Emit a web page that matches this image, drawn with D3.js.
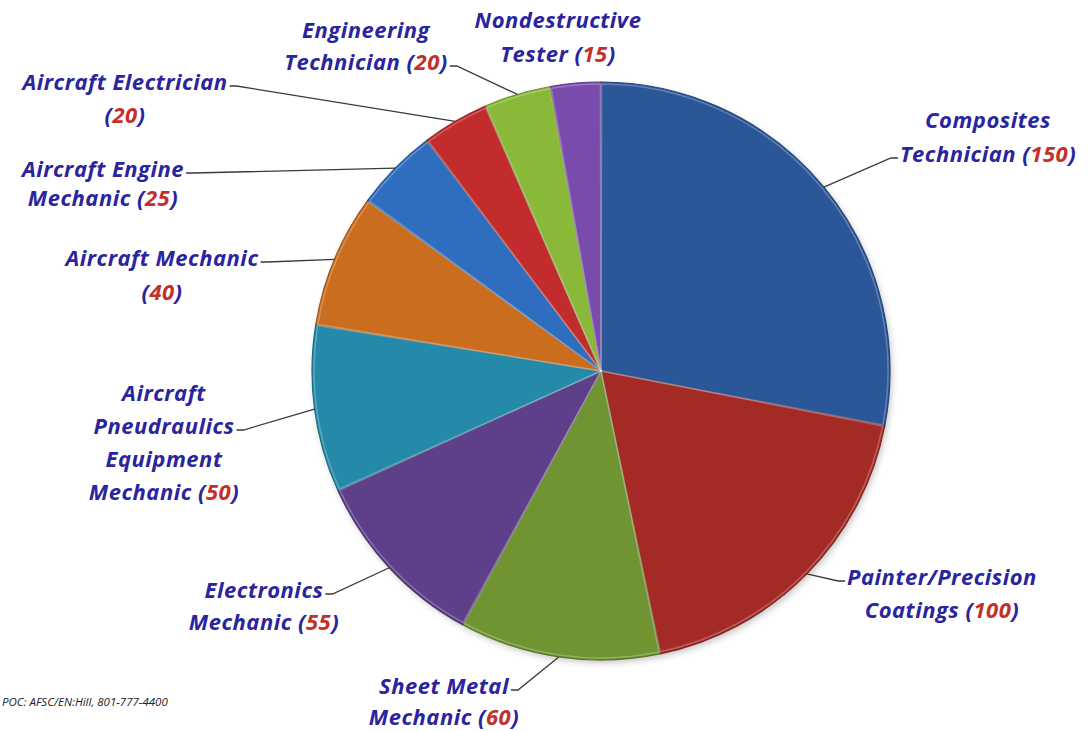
<!DOCTYPE html>
<html>
<head>
<meta charset="utf-8">
<script src="https://cdn.jsdelivr.net/npm/d3@7/dist/d3.min.js"></script>
<style>
    body { margin: 0; background: #fff; }
    svg { display: block; }
    .lbl { font-family: "Open Sans", Lato, sans-serif; font-weight: bold; font-style: italic; font-size: 22px; fill: #2a249e; letter-spacing: 0.5px; }
    .num { fill: #c3302a; }
    .leader { fill: none; stroke: #3a3a3a; stroke-width: 1.3; }
    .poc { font-family: "Open Sans", sans-serif; font-style: italic; font-size: 11.5px; fill: #222; }
</style>
</head>
<body>
<svg id="chart"></svg>
<script>
const width = 1088,
    height = 731;

// chart data (clockwise from 12 o'clock)
const categories = [
    ["Composites", "Technician"],
    ["Painter/Precision", "Coatings"],
    ["Sheet Metal", "Mechanic"],
    ["Electronics", "Mechanic"],
    ["Aircraft", "Pneudraulics", "Equipment", "Mechanic"],
    ["Aircraft Mechanic"],
    ["Aircraft Engine", "Mechanic"],
    ["Aircraft Electrician"],
    ["Engineering", "Technician"],
    ["Nondestructive", "Tester"]
];
const values = [150, 100, 60, 55, 50, 40, 25, 20, 20, 15];
const sliceColors = [
    "#3163ad", "#ba302b", "#7ea838", "#6a479c", "#2a9cc0",
    "#e67c22", "#357bd8", "#dc3232", "#9cd140", "#8855c4"
];
const pocText = "POC:  AFSC/EN:Hill, 801-777-4400";

// label layout: centre x, first baseline, line gap, value on own line,
// which line the leader leaves from (-1 = none)
const labelLayout = [
    { x: 988, y: 128, gap: 34, own: false, leadLine: 1 },
    { x: 942, y: 585, gap: 33, own: false, leadLine: 0 },
    { x: 444, y: 694, gap: 31, own: false, leadLine: 0 },
    { x: 264, y: 598, gap: 32, own: false, leadLine: 0 },
    { x: 164, y: 401, gap: 33, own: false, leadLine: 1 },
    { x: 162, y: 266, gap: 34, own: true, leadLine: 0 },
    { x: 103, y: 177, gap: 29, own: false, leadLine: 0 },
    { x: 125, y: 90, gap: 33, own: true, leadLine: 0 },
    { x: 366, y: 38, gap: 32, own: false, leadLine: 1 },
    { x: 558, y: 28, gap: 34, own: false, leadLine: -1 }
];

const cx = 601,
    cy = 371,
    radius = 289;

const svg = d3
    .select("#chart")
    .attr("width", width)
    .attr("height", height);

const defs = svg.append("defs");

// soft shading per slice: light rim near the edge
sliceColors.forEach((c, i) => {
    const g = defs
        .append("radialGradient")
        .attr("id", "grad" + i)
        .attr("gradientUnits", "userSpaceOnUse")
        .attr("cx", cx)
        .attr("cy", cy)
        .attr("r", radius);
    const base = d3.color(c);
    g.append("stop").attr("offset", "0%").attr("stop-color", base.darker(0.05));
    g.append("stop").attr("offset", "88%").attr("stop-color", base);
    g.append("stop").attr("offset", "96%").attr("stop-color", base.brighter(0.3));
    g.append("stop").attr("offset", "100%").attr("stop-color", base.darker(0.35));
});

const filter = defs
    .append("filter")
    .attr("id", "shadow")
    .attr("x", "-10%")
    .attr("y", "-10%")
    .attr("width", "120%")
    .attr("height", "120%");
filter
    .append("feDropShadow")
    .attr("dx", 2)
    .attr("dy", 3)
    .attr("stdDeviation", 3)
    .attr("flood-color", "#000")
    .attr("flood-opacity", 0.22);

const pie = d3
    .pie()
    .sort(null)
    .value(d => d);

const arcs = pie(values);

const arc = d3
    .arc()
    .innerRadius(0)
    .outerRadius(radius);

const pieG = svg
    .append("g")
    .attr("transform", `translate(${cx},${cy})`);

pieG.append("circle")
    .attr("r", radius)
    .attr("fill", "#fff")
    .attr("filter", "url(#shadow)");

pieG.selectAll("path.slice")
    .data(arcs)
    .enter()
    .append("path")
    .attr("class", "slice")
    .attr("d", arc)
    .attr("fill", (d, i) => `url(#grad${i})`)
    .attr("stroke", (d, i) => d3.color(sliceColors[i]).darker(1))
    .attr("stroke-width", 1.2)
    .attr("stroke-linejoin", "round");

// light bevel line just inside each slice edge
pieG.selectAll("path.bevel")
    .data(arcs)
    .enter()
    .append("path")
    .attr("class", "bevel")
    .attr("d", d3.arc().innerRadius(0).outerRadius(radius - 2).padAngle(0.004))
    .attr("fill", "none")
    .attr("stroke", "rgba(255,255,255,0.25)")
    .attr("stroke-width", 1.5);

const leaderG = svg.append("g");

// labels
const labels = svg
    .append("g")
    .selectAll("text")
    .data(arcs)
    .enter()
    .append("text")
    .attr("class", "lbl")
    .attr("text-anchor", "middle");

const leadStarts = [];

labels.each(function(d, i) {
    const lay = labelLayout[i];
    const lines = categories[i];
    const t = d3.select(this);
    const nLines = lay.own ? lines.length + 1 : lines.length;
    for (let k = 0; k < nLines; k++) {
        const ty = lay.y + k * lay.gap;
        const ts = t
            .append("tspan")
            .attr("x", lay.x)
            .attr("y", ty);
        if (k < nLines - 1) {
            ts.text(lines[k]);
        } else {
            const prefix = lay.own ? "" : lines[k] + "  ";
            ts.append("tspan").text(prefix + "(");
            ts.append("tspan").attr("class", "num").text(values[i]);
            ts.append("tspan").text(")");
        }
        if (k === lay.leadLine) {
            const half = ts.node().getComputedTextLength() / 2;
            leadStarts[i] = { left: lay.x - half, right: lay.x + half, y: ty - 4 };
        }
    }
});

// leader lines: text end -> short hook -> middle of the slice rim
function rimPoint(d) {
    const a = (d.startAngle + d.endAngle) / 2;
    return [cx + radius * Math.sin(a), cy - radius * Math.cos(a)];
}

const line = d3.line();

leaderG
    .selectAll("path")
    .data(arcs.filter((d, i) => leadStarts[i]))
    .enter()
    .append("path")
    .attr("class", "leader")
    .attr("d", d => {
        const s = leadStarts[d.index];
        const p = rimPoint(d);
        const onLeft = p[0] > s.right;
        const l = onLeft ? [s.right + 2, s.y] : [s.left - 2, s.y];
        const hook = onLeft ? 7 : -7;
        return line([l, [l[0] + hook, l[1]], p]);
    });

svg.append("text")
    .attr("class", "poc")
    .attr("x", 2)
    .attr("y", 706)
    .text(pocText);
</script>
</body>
</html>
